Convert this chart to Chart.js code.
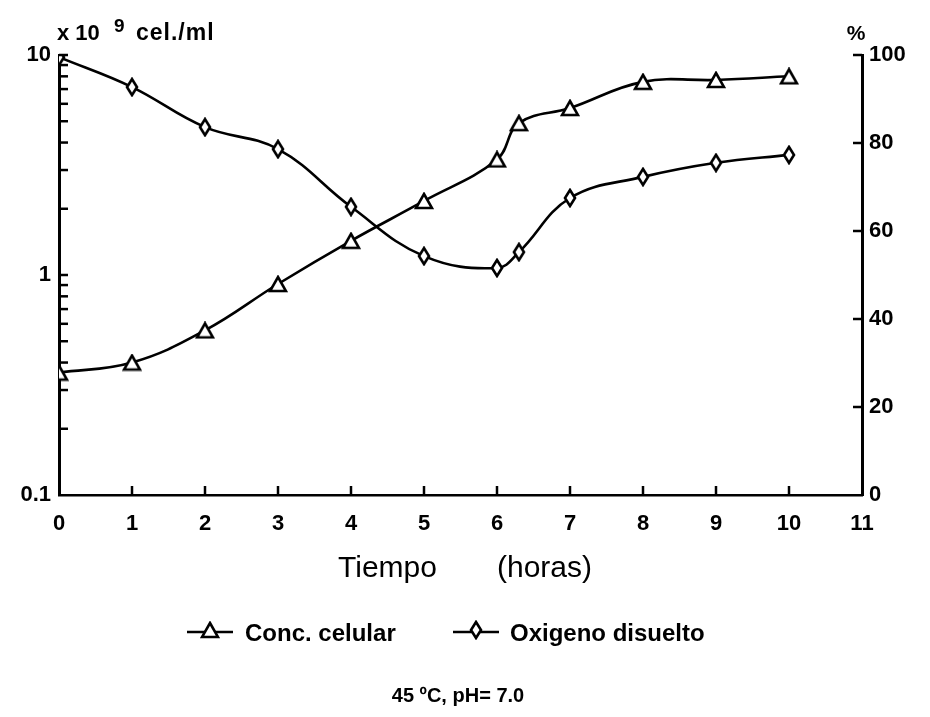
<!DOCTYPE html>
<html>
<head>
<meta charset="utf-8">
<script src="https://cdn.jsdelivr.net/npm/chart.js@4.4.1/dist/chart.umd.min.js"></script>
<style>
  html, body { margin: 0; padding: 0; background: #fff; }
  #wrap { position: relative; width: 930px; height: 717px; }
</style>
</head>
<body>
<div id="wrap"><canvas id="c" width="930" height="717"></canvas></div>
<script>
// ---- data ----
const hours = [0, 1, 2, 3, 4, 5, 6, 6.3, 7, 8, 9, 10];
const concCelular = [0.36, 0.40, 0.56, 0.91, 1.43, 2.17, 3.35, 4.9, 5.74, 7.55, 7.7, 8.0];
const oxigenoDisuelto = [99.5, 92.7, 83.6, 78.6, 65.5, 54.3, 51.6, 55.2, 67.5, 72.3, 75.5, 77.3];
const xTicks = [0, 1, 2, 3, 4, 5, 6, 7, 8, 9, 10, 11];
const leftTicks = [0.1, 0.2, 0.3, 0.4, 0.5, 0.6, 0.7, 0.8, 0.9, 1, 2, 3, 4, 5, 6, 7, 8, 9, 10];
const leftLabels = [0.1, 1, 10];
const rightTicks = [0, 20, 40, 60, 80, 100];
const seriesNames = ['Conc. celular', 'Oxigeno disuelto'];
const leftTitle = ['x 10', '9', 'cel./ml'];
const rightTitle = '%';
const xTitle = ['Tiempo', '(horas)'];
const subtitle = '45 \u00baC, pH= 7.0';

const FONT = "'Liberation Sans', Arial, sans-serif";

// marker images
function makeTriangle() {
  const c = document.createElement('canvas'); c.width = 20; c.height = 18;
  const g = c.getContext('2d');
  g.lineWidth = 2.6; g.strokeStyle = '#000'; g.fillStyle = '#fff'; g.lineJoin = 'miter';
  g.beginPath(); g.moveTo(10, 2); g.lineTo(18, 16); g.lineTo(2, 16); g.closePath();
  g.fill(); g.stroke();
  return c;
}
function makeDiamond() {
  const c = document.createElement('canvas'); c.width = 14; c.height = 20;
  const g = c.getContext('2d');
  g.lineWidth = 2.6; g.strokeStyle = '#000'; g.fillStyle = '#fff';
  g.beginPath(); g.moveTo(7, 2); g.lineTo(12, 10); g.lineTo(7, 18); g.lineTo(2, 10); g.closePath();
  g.fill(); g.stroke();
  return c;
}
const triImg = makeTriangle();
const diaImg = makeDiamond();

const decorPlugin = {
  id: 'decor',
  afterDraw(chart) {
    const ctx = chart.ctx;
    const { left, right, top, bottom } = chart.chartArea;
    const x = chart.scales.x, yl = chart.scales.y, yr = chart.scales.y1;
    ctx.save();
    ctx.strokeStyle = '#000';
    ctx.lineWidth = 2.5;
    ctx.lineCap = 'butt';
    // inward tick marks
    leftTicks.forEach(v => {
      if (v === leftTicks[0]) return;
      const p = yl.getPixelForValue(v);
      ctx.beginPath(); ctx.moveTo(left, p); ctx.lineTo(left + 9, p); ctx.stroke();
    });
    rightTicks.forEach(v => {
      if (v === 0) return;
      const p = yr.getPixelForValue(v);
      ctx.beginPath(); ctx.moveTo(right, p); ctx.lineTo(right - 9, p); ctx.stroke();
    });
    xTicks.forEach(v => {
      if (v === 0 || v === xTicks[xTicks.length - 1]) return;
      const p = x.getPixelForValue(v);
      ctx.beginPath(); ctx.moveTo(p, bottom); ctx.lineTo(p, bottom - 9); ctx.stroke();
    });
    // titles
    ctx.fillStyle = '#000';
    ctx.textBaseline = 'alphabetic';
    ctx.textAlign = 'left';
    ctx.font = 'bold 22px ' + FONT;
    ctx.fillText(leftTitle[0], 57, 40);
    ctx.font = 'bold 19px ' + FONT;
    ctx.fillText(leftTitle[1], 114, 32);
    ctx.font = 'bold 23px ' + FONT;
    ctx.letterSpacing = '1px';
    ctx.fillText(leftTitle[2], 136, 40);
    ctx.letterSpacing = '0px';
    ctx.font = 'bold 21px ' + FONT;
    ctx.textAlign = 'center';
    ctx.fillText(rightTitle, right - 6, 40);
    ctx.textAlign = 'left';
    ctx.font = '30px ' + FONT;
    ctx.fillText(xTitle[0], 338, 577);
    ctx.fillText(xTitle[1], 497, 577);
    // legend
    const ly = 632;
    ctx.font = 'bold 24px ' + FONT;
    ctx.textBaseline = 'middle';
    const items = [
      { x0: 187, img: triImg, label: seriesNames[0], tx: 245 },
      { x0: 453, img: diaImg, label: seriesNames[1], tx: 510 }
    ];
    items.forEach(it => {
      ctx.beginPath(); ctx.moveTo(it.x0, ly); ctx.lineTo(it.x0 + 46, ly); ctx.stroke();
      ctx.drawImage(it.img, it.x0 + 23 - it.img.width / 2, ly - it.img.height / 2 - 2);
      ctx.fillText(it.label, it.tx, ly + 2);
    });
    ctx.textBaseline = 'alphabetic';
    ctx.font = 'bold 20px ' + FONT;
    ctx.textAlign = 'center';
    ctx.fillText(subtitle, 458, 702);
    ctx.restore();
  }
};

new Chart(document.getElementById('c'), {
  type: 'line',
  data: {
    datasets: [
      {
        label: seriesNames[0],
        data: hours.map((h, i) => ({ x: h, y: concCelular[i] })),
        yAxisID: 'y',
        borderColor: '#000', borderWidth: 2.6,
        pointStyle: triImg, pointRadius: 8,
        tension: 0.4, fill: false
      },
      {
        label: seriesNames[1],
        data: hours.map((h, i) => ({ x: h, y: oxigenoDisuelto[i] })),
        yAxisID: 'y1',
        borderColor: '#000', borderWidth: 2.6,
        pointStyle: diaImg, pointRadius: 8,
        tension: 0.4, fill: false
      }
    ]
  },
  options: {
    responsive: false,
    animation: false,
    events: [],
    layout: { padding: { top: 55, left: 0, right: 0, bottom: 0 } },
    plugins: { legend: { display: false }, tooltip: { enabled: false } },
    scales: {
      x: {
        type: 'linear', min: 0, max: 11,
        afterBuildTicks: s => { s.ticks = xTicks.map(v => ({ value: v })); },
        afterFit: s => { s.height = 222; },
        grid: { display: false, drawTicks: false },
        border: { display: true, color: '#000', width: 2.5 },
        ticks: { color: '#000', padding: 16, maxRotation: 0, autoSkip: false,
                 font: { family: FONT, size: 22, weight: 'bold' } }
      },
      y: {
        type: 'logarithmic', position: 'left', min: 0.1, max: 10,
        afterBuildTicks: s => { s.ticks = leftTicks.map(v => ({ value: v })); },
        afterFit: s => { s.width = 59; },
        grid: { display: false, drawTicks: false },
        border: { display: true, color: '#000', width: 3 },
        ticks: { color: '#000', padding: 8, autoSkip: false,
                 font: { family: FONT, size: 22, weight: 'bold' },
                 callback: v => leftLabels.includes(+(+v).toPrecision(6)) ? String(+(+v).toPrecision(6)) : '' }
      },
      y1: {
        type: 'linear', position: 'right', min: 0, max: 100,
        afterBuildTicks: s => { s.ticks = rightTicks.map(v => ({ value: v })); },
        afterFit: s => { s.width = 68; },
        grid: { display: false, drawTicks: false },
        border: { display: true, color: '#000', width: 3 },
        ticks: { color: '#000', padding: 7, autoSkip: false,
                 font: { family: FONT, size: 22, weight: 'bold' } }
      }
    }
  },
  plugins: [decorPlugin]
});
</script>
</body>
</html>
